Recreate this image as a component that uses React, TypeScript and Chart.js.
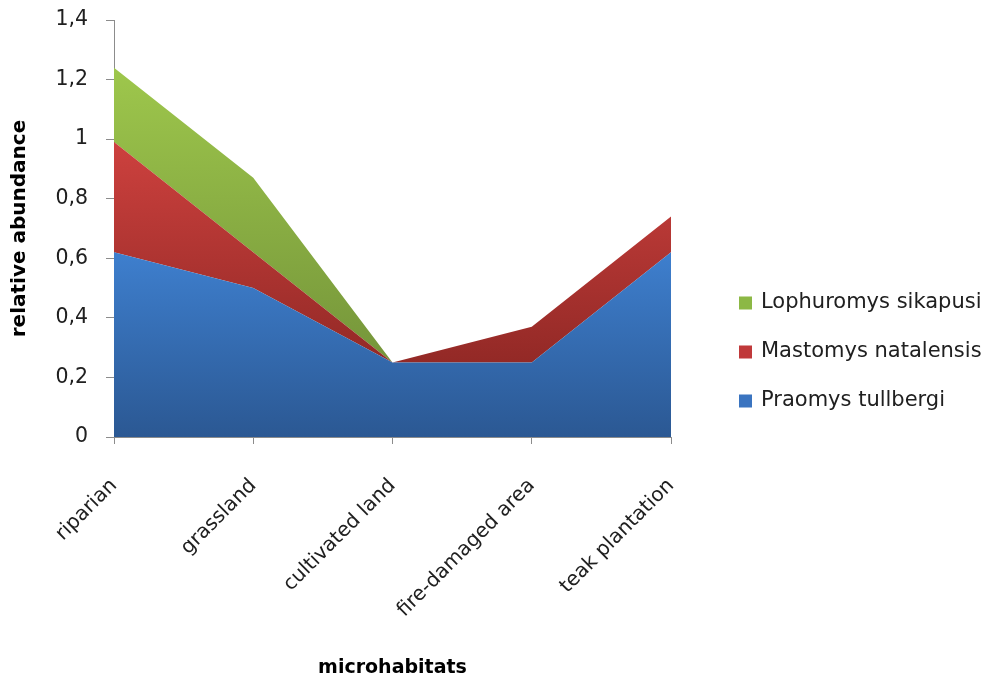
import React, { useEffect, useRef } from 'react';
import { Chart, registerables } from 'chart.js';

Chart.register(...registerables);

const categories = ['riparian', 'grassland', 'cultivated land', 'fire-damaged area', 'teak plantation'];
const praomysTullbergi = [0.62, 0.5, 0.25, 0.25, 0.62];
const mastomysNatalensis = [0.37, 0.12, 0, 0.12, 0.12];
const lophuromysSikapusi = [0.25, 0.25, 0, 0, 0];
const seriesNames = ['Praomys tullbergi', 'Mastomys natalensis', 'Lophuromys sikapusi'];
const yTickLabels = ['0', '0,2', '0,4', '0,6', '0,8', '1', '1,2', '1,4'];

const FONT = '"DejaVu Sans", "Open Sans", sans-serif';
const TEXT = '#202020';
const AXIS = '#8c8c8c';

const gradStops = [
  ['#3e7fce', '#2b5893'],
  ['#cd413e', '#932926'],
  ['#9ec74c', '#75953a'],
];
const legendColors = ['#3a74c0', '#c0393a', '#8cb845'];

const sideLegend = {
  id: 'sideLegend',
  afterDraw(chart: any, _args: any, opts: any) {
    const ctx = chart.ctx;
    const items = chart.data.datasets.map((d: any, i: number) => ({ label: d.label, color: legendColors[i] })).reverse();
    ctx.save();
    items.forEach((it: any, k: number) => {
      const cy = opts.y + k * opts.spacing;
      ctx.fillStyle = it.color;
      ctx.fillRect(opts.x, cy - opts.box / 2, opts.box, opts.box);
      ctx.fillStyle = TEXT;
      ctx.font = `${opts.size}px ${FONT}`;
      ctx.textBaseline = 'middle';
      ctx.textAlign = 'left';
      ctx.fillText(it.label, opts.x + opts.box + opts.gap, cy);
    });
    ctx.restore();
  },
};

export default function App() {
  const ref = useRef<HTMLCanvasElement | null>(null);

  useEffect(() => {
    if (!ref.current) return;
    const seriesData = [praomysTullbergi, mastomysNatalensis, lophuromysSikapusi];
    const cumTop: number[][] = [];
    const cumBase: number[][] = [];
    seriesData.forEach((s, i) => {
      const base = i === 0 ? s.map(() => 0) : cumTop[i - 1];
      cumBase.push(base);
      cumTop.push(s.map((v, j) => v + base[j]));
    });

    const makeBg = (i: number) => (context: any) => {
      const chart = context.chart;
      const area = chart.chartArea;
      if (!area) return gradStops[i][0];
      const y = chart.scales.y;
      const top = y.getPixelForValue(Math.max(...cumTop[i]));
      const bottom = y.getPixelForValue(Math.min(...cumBase[i]));
      const g = chart.ctx.createLinearGradient(0, top, 0, bottom);
      g.addColorStop(0, gradStops[i][0]);
      g.addColorStop(1, gradStops[i][1]);
      return g;
    };

    const datasets = seriesData.map((s, i) => ({
      label: seriesNames[i],
      data: s,
      fill: i === 0 ? 'origin' : '-1',
      backgroundColor: makeBg(i),
      borderWidth: 0,
      borderColor: 'rgba(0,0,0,0)',
      pointRadius: 0,
      pointHoverRadius: 0,
      tension: 0,
    }));

    const chart = new Chart(ref.current, {
      type: 'line',
      data: { labels: categories, datasets },
      plugins: [sideLegend],
      options: {
        animation: false,
        responsive: false,
        devicePixelRatio: 1,
        layout: { padding: { top: 20, right: 320, left: 0, bottom: 0 } },
        plugins: {
          legend: { display: false },
          tooltip: { enabled: false },
          sideLegend: { x: 739, y: 303, spacing: 49, box: 13, gap: 9, size: 21 },
        } as any,
        scales: {
          x: {
            type: 'category',
            offset: false,
            grid: { display: true, drawOnChartArea: false, drawTicks: true, tickLength: 7, color: AXIS },
            border: { display: true, color: AXIS, width: 1 },
            ticks: {
              autoSkip: false,
              minRotation: 45,
              maxRotation: 45,
              padding: 30,
              color: TEXT,
              font: { family: FONT, size: 20 },
            },
            title: {
              display: true,
              text: 'microhabitats',
              color: '#000',
              font: { family: FONT, size: 19, weight: 'bold' },
              padding: { top: 5, bottom: 0 },
            },
            afterFit: (s: any) => {
              s.height = 242;
            },
          },
          y: {
            stacked: true,
            min: 0,
            max: 1.4,
            grid: { display: true, drawOnChartArea: false, drawTicks: true, tickLength: 8, color: AXIS },
            border: { display: true, color: AXIS, width: 1 },
            ticks: {
              stepSize: 0.2,
              padding: 18,
              color: TEXT,
              font: { family: FONT, size: 20.5 },
              callback: (_v: any, idx: number) => yTickLabels[idx],
            },
            title: {
              display: true,
              text: 'relative abundance',
              color: '#000',
              font: { family: FONT, size: 20, weight: 'bold' },
              padding: { top: 8, bottom: 0 },
            },
            afterFit: (s: any) => {
              s.width = 114;
              s.paddingTop = 0;
              s.paddingBottom = 0;
            },
          },
        },
      } as any,
    });
    return () => chart.destroy();
  }, []);

  return (
    <div style={{ position: 'absolute', left: 0, top: 0, width: 991, height: 679, background: '#fff' }}>
      <canvas ref={ref} width={991} height={679} />
    </div>
  );
}
